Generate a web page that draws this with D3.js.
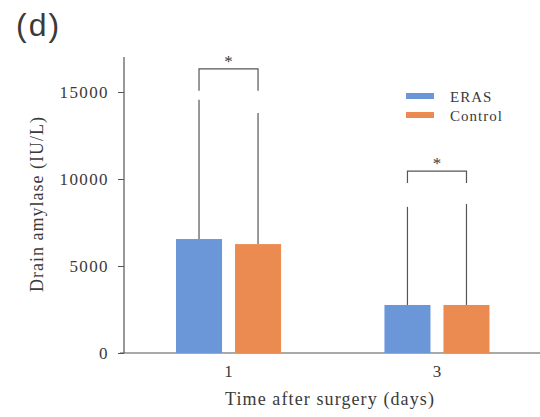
<!doctype html>
<html>
<head>
    <meta charset="UTF-8">
    <title>Drain amylase</title>
    <script src="https://d3js.org/d3.v7.min.js"></script>
    <style>
        body { margin: 0; background: #fff; }
        text { font-family: "Liberation Serif", "Times New Roman", serif; fill: #3a3a3a; }
    </style>
</head>
<body>
<script>
    // data
    var days = ["1", "3"];
    var groups = ["ERAS", "Control"];
    var eras = [6550, 2760];
    var control = [6260, 2760];
    var erasErr = [14550, 8400];     // top of error whisker
    var controlErr = [13800, 8560];
    var yTicks = [0, 5000, 10000, 15000];
    var sig = ["*", "*"];
    var colors = ["#6b97d9", "#ec8b51"];

    var w = 540, h = 417;
    var mLeft = 124, mRight = 540, mTop = 57, mBottom = 353;

    var svg = d3.select("body").append("svg")
        .attr("width", w)
        .attr("height", h);

    var y = d3.scaleLinear().domain([0, 5000]).range([mBottom, 266]);

    var x0 = d3.scaleBand().domain(days).range([176, 489.5]).paddingInner(0.496).paddingOuter(0);
    var x1 = d3.scaleBand().domain(groups).range([0, x0.bandwidth()]).paddingInner(0.22).paddingOuter(0);

    // axes
    svg.append("line")
        .attr("x1", mLeft).attr("x2", mLeft)
        .attr("y1", mTop).attr("y2", mBottom)
        .attr("stroke", "#555").attr("stroke-width", 1.2);
    svg.append("line")
        .attr("x1", mLeft - 4).attr("x2", mRight)
        .attr("y1", mBottom).attr("y2", mBottom)
        .attr("stroke", "#555").attr("stroke-width", 1.2);

    var yAxis = d3.axisLeft(y).tickValues(yTicks).tickFormat(d3.format("d")).tickSize(6).tickPadding(9);
    var gy = svg.append("g").attr("transform", "translate(" + mLeft + ",0)").call(yAxis);
    gy.select(".domain").remove();
    gy.selectAll("line").attr("stroke", "#555");
    gy.selectAll("text").style("font-size", "17px").style("letter-spacing", "1.4px")
        .style("font-family", "Liberation Serif, serif").attr("fill", "#3a3a3a");

    var xAxis = d3.axisBottom(x0).tickSize(0).tickPadding(12);
    var gx = svg.append("g").attr("transform", "translate(0," + mBottom + ")").call(xAxis);
    gx.select(".domain").remove();
    gx.selectAll("text").style("font-size", "17px")
        .style("font-family", "Liberation Serif, serif").attr("fill", "#3a3a3a");

    // bars
    var rows = days.map(function(d, i) {
        return {
            day: d,
            vals: [
                { g: groups[0], v: eras[i], e: erasErr[i] },
                { g: groups[1], v: control[i], e: controlErr[i] }
            ]
        };
    });

    var grp = svg.selectAll("g.day").data(rows).enter()
        .append("g").attr("class", "day")
        .attr("transform", function(d) { return "translate(" + x0(d.day) + ",0)"; });

    grp.selectAll("line.err").data(function(d) { return d.vals; }).enter()
        .append("line").attr("class", "err")
        .attr("x1", function(d) { return x1(d.g) + x1.bandwidth() / 2; })
        .attr("x2", function(d) { return x1(d.g) + x1.bandwidth() / 2; })
        .attr("y1", function(d) { return y(d.v); })
        .attr("y2", function(d) { return y(d.e); })
        .attr("stroke", "#555").attr("stroke-width", 1.2);

    grp.selectAll("rect").data(function(d) { return d.vals; }).enter()
        .append("rect")
        .attr("x", function(d) { return x1(d.g); })
        .attr("y", function(d) { return y(d.v); })
        .attr("width", x1.bandwidth())
        .attr("height", function(d) { return mBottom - y(d.v); })
        .attr("fill", function(d, i) { return colors[i]; });

    // significance brackets (gap above whisker, leg length)
    var brGap = [31, 33], brLeg = [22, 12];
    grp.each(function(d, i) {
        var g = d3.select(this);
        var xa = x1(groups[0]) + x1.bandwidth() / 2;
        var xb = x1(groups[1]) + x1.bandwidth() / 2;
        var maxE = Math.max(d.vals[0].e, d.vals[1].e);
        var yb = y(maxE) - brGap[i];
        g.append("path")
            .attr("d", "M" + xa + "," + (yb + brLeg[i]) + "V" + yb + "H" + xb + "V" + (yb + brLeg[i]))
            .attr("fill", "none").attr("stroke", "#555").attr("stroke-width", 1.2);
        g.append("text")
            .attr("x", (xa + xb) / 2).attr("y", yb - 2)
            .attr("text-anchor", "middle")
            .style("font-size", "17px")
            .text(sig[i]);
    });

    // legend
    var lg = svg.append("g").attr("transform", "translate(406,93)");
    groups.forEach(function(gname, i) {
        lg.append("rect").attr("x", 0).attr("y", i * 19).attr("width", 28).attr("height", 6)
            .attr("fill", colors[i]);
        lg.append("text").attr("x", 44).attr("y", i * 19 + 9)
            .style("font-size", "15px").style("letter-spacing", "1px").text(gname);
    });

    // axis titles
    svg.append("text")
        .attr("x", 330).attr("y", 405)
        .attr("text-anchor", "middle")
        .style("font-size", "18px").style("letter-spacing", "1.1px")
        .text("Time after surgery (days)");

    svg.append("text")
        .attr("transform", "translate(43,204) rotate(-90)")
        .attr("text-anchor", "middle")
        .style("font-size", "18px").style("letter-spacing", "1px")
        .text("Drain amylase (IU/L)");

    // panel label
    svg.append("text")
        .attr("x", 16).attr("y", 36)
        .style("font-family", "Liberation Sans, Arial, sans-serif")
        .style("font-size", "32px").style("letter-spacing", "2px")
        .attr("fill", "#222")
        .text("(d)");
</script>
</body>
</html>
